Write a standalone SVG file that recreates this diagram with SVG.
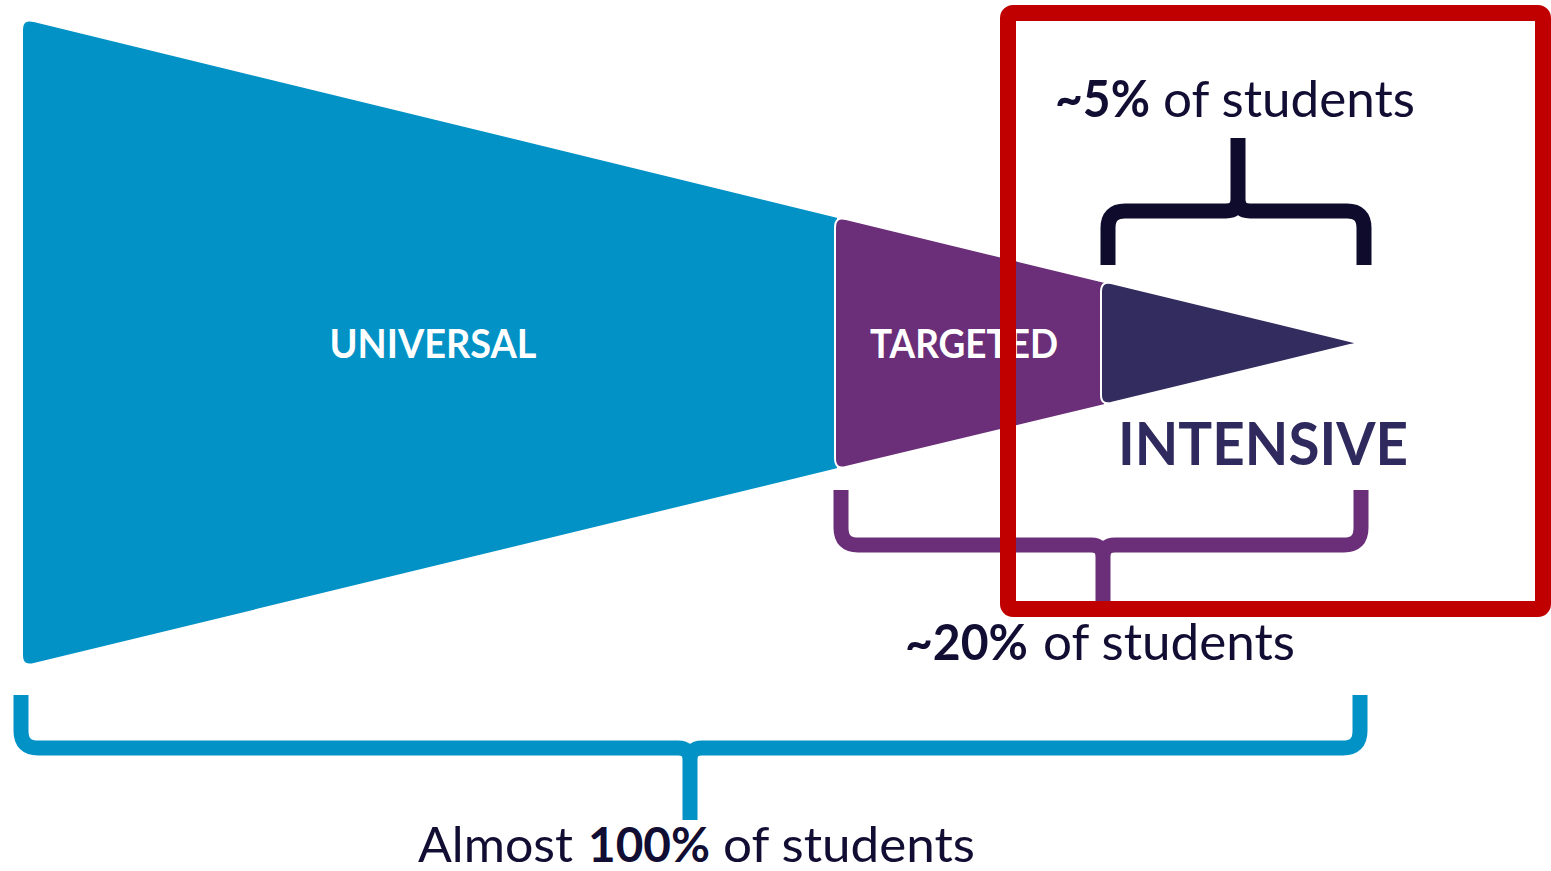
<svg xmlns="http://www.w3.org/2000/svg" width="1551" height="871" viewBox="0 0 1551 871">
<style>
.seg{stroke:#ffffff;stroke-width:2;stroke-linejoin:round}
.br{fill:none;stroke-width:15;stroke-linecap:butt;stroke-linejoin:round}
.lbl{font-family:Lato,"Liberation Sans",sans-serif;font-weight:bold;fill:#ffffff}
.cap{font-family:Lato,"Liberation Sans",sans-serif;fill:#120d33}
.b{font-weight:bold}
</style>
<rect x="0" y="0" width="1551" height="871" fill="#ffffff"/>
<g id="universal">
<path class="seg" fill="#0292c6" d="M22,30 Q22,18 34,21 L838,217 L838,469 L34,664 Q22,667 22,655 Z"/>
<text class="lbl" x="433" y="358" font-size="41" text-anchor="middle" textLength="207" lengthAdjust="spacingAndGlyphs">UNIVERSAL</text>
</g>
<g id="targeted">
<path class="seg" fill="#6a2f78" d="M835,228 Q835,216 846,219 L1105,282 L1105,405 L846,467 Q835,470 835,458 Z"/>
<text class="lbl" x="964" y="358" font-size="41" text-anchor="middle" textLength="188" lengthAdjust="spacingAndGlyphs">TARGETED</text>
</g>
<g id="intensive">
<path class="seg" fill="#332c5f" d="M1101,292 Q1101,281 1111,283 L1350,341 Q1360,343 1350,345 L1111,403 Q1101,405 1101,395 Z"/>
<text x="1263" y="465" font-size="60" text-anchor="middle" font-family="Lato,'Liberation Sans',sans-serif" font-weight="bold" fill="#2e2a5e" textLength="290" lengthAdjust="spacingAndGlyphs">INTENSIVE</text>
</g>
<g id="connectors">
<path class="br" stroke="#0e0b2c" d="M1108,265 L1108,228 Q1108,211 1125,211 L1226,211 Q1238,211 1238,199 L1238,138 M1238,199 Q1238,211 1250,211 L1347,211 Q1364,211 1364,228 L1364,265"/>
<path class="br" stroke="#6a2f78" d="M841,490 L841,528 Q841,545 858,545 L1091,545 Q1103,545 1103,557 L1103,602 M1103,557 Q1103,545 1115,545 L1344,545 Q1361,545 1361,528 L1361,490"/>
<path class="br" stroke="#0292c6" d="M21,695 L21,731 Q21,748 38,748 L678,748 Q690,748 690,760 L690,820 M690,760 Q690,748 702,748 L1343,748 Q1360,748 1360,731 L1360,695"/>
</g>
<g id="label-5">
<text class="cap" x="1055" y="117" font-size="51"><tspan class="b" textLength="95" lengthAdjust="spacingAndGlyphs">~5%</tspan><tspan x="1163" textLength="252" lengthAdjust="spacingAndGlyphs">of students</tspan></text>
</g>
<g id="label-20">
<text class="cap" x="905" y="660" font-size="50"><tspan class="b" textLength="123" lengthAdjust="spacingAndGlyphs">~20%</tspan><tspan x="1043" textLength="252" lengthAdjust="spacingAndGlyphs">of students</tspan></text>
</g>
<g id="label-100">
<text class="cap" x="418" y="862" font-size="48"><tspan textLength="155" lengthAdjust="spacingAndGlyphs">Almost</tspan><tspan class="b" x="588" textLength="122" lengthAdjust="spacingAndGlyphs">100%</tspan><tspan x="723" textLength="252" lengthAdjust="spacingAndGlyphs">of students</tspan></text>
</g>
<g id="highlight">
<rect x="1008" y="13" width="535" height="596" rx="5" fill="none" stroke="#c00000" stroke-width="16"/>
</g>
</svg>
